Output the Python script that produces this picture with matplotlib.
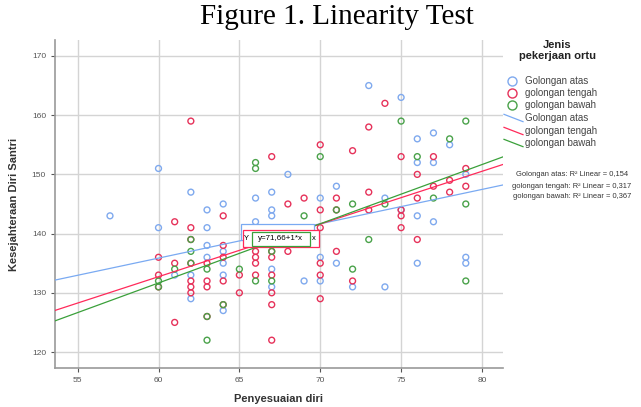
import matplotlib
matplotlib.use("Agg")
import matplotlib.pyplot as plt
from matplotlib.lines import Line2D
from matplotlib.patches import Rectangle
import numpy as np

plt.rcParams['font.family'] = ['Liberation Sans', 'DejaVu Sans']

# data (Penyesuaian diri, Kesejahteraan Diri Santri)
atas_x = [57, 60, 60, 61, 62, 62, 62, 63, 63, 63, 63, 64, 64, 64, 64, 64, 66, 66,
          67, 67, 67, 67, 67, 68, 69, 70, 70, 70, 71, 71, 72, 73, 74, 74, 75, 75,
          76, 76, 76, 76, 77, 77, 77, 78, 79, 79, 79]
atas_y = [143, 151, 141, 133, 147, 133, 129, 144, 141, 138, 136, 145, 137, 135, 133, 127, 146, 142,
          147, 144, 143, 134, 131, 150, 132, 146, 136, 132, 148, 135, 131, 165, 146, 131, 163, 144,
          156, 152, 143, 135, 157, 152, 142, 155, 150, 136, 135]

tengah_x = [60, 60, 60, 61, 61, 61, 62, 62, 62, 62, 62, 62, 62, 63, 63, 63, 63,
            64, 64, 64, 64, 64, 65, 65, 66, 66, 66, 66, 67, 67, 67, 67, 67, 67, 67,
            68, 68, 69, 70, 70, 70, 70, 70, 70, 71, 71, 71, 72, 72, 73, 73, 73, 74,
            75, 75, 75, 75, 76, 76, 76, 77, 77, 78, 78, 79, 79]
tengah_y = [136, 133, 131, 142, 135, 125, 159, 141, 139, 135, 132, 131, 130, 135, 132, 131, 126,
            143, 138, 136, 132, 128, 133, 130, 137, 136, 135, 133, 153, 137, 136, 133, 130, 128, 122,
            145, 137, 146, 155, 144, 141, 135, 133, 129, 146, 144, 137, 154, 132, 158, 147, 144, 162,
            153, 144, 143, 141, 150, 146, 139, 153, 148, 149, 147, 151, 148]

bawah_x = [60, 60, 61, 62, 62, 62, 63, 63, 63, 64, 65, 66, 66, 66, 67, 67, 69, 70,
           71, 72, 72, 73, 74, 75, 76, 77, 78, 79, 79, 79]
bawah_y = [132, 131, 134, 139, 137, 135, 134, 126, 122, 128, 134, 152, 151, 132, 137, 132, 143, 153,
           144, 145, 134, 139, 145, 159, 153, 146, 156, 159, 145, 132]

groups = ['Golongan atas', 'golongan tengah', 'golongan bawah']
# fit lines (intercept, slope) and R2 as shown
fit_a = [101.06, 79.32, 71.66]
fit_b = [0.58, 0.89, 1.0]
r2 = ['0,154', '0,317', '0,367']

cols = ['#7fa9ee', '#e6325a', '#4aa24a']
line_cols = ['#7aaaf2', '#ff2a5a', '#3aa03a']

fig = plt.figure(figsize=(6.41, 4.07), dpi=100)
ax = fig.add_axes([0.0858, 0.0958, 0.6989, 0.806])

xs = [atas_x, tengah_x, bawah_x]
ys = [atas_y, tengah_y, bawah_y]
for i in range(3):
    ax.scatter(xs[i], ys[i], s=18, facecolors='none', edgecolors=cols[i], linewidths=1.0, zorder=3)

xl = (53.6, 81.3)
xx = np.array(xl)
for i in range(3):
    ax.plot(xx, fit_a[i] + fit_b[i] * xx, color=line_cols[i], lw=0.9, zorder=4)

ax.set_xlim(xl)
ax.set_ylim(117.3, 172.7)
ax.set_xticks([55, 60, 65, 70, 75, 80])
ax.set_yticks([120, 130, 140, 150, 160, 170])
ax.grid(True, color='#d4d4d4', lw=1.0)
ax.set_axisbelow(True)
for s in ['top', 'right']:
    ax.spines[s].set_visible(False)
for s in ['left', 'bottom']:
    ax.spines[s].set_color('#999999')
    ax.spines[s].set_linewidth(1.2)
ax.tick_params(labelsize=6, colors='#555555', length=3, width=0.8)
ax.set_xlabel('Penyesuaian diri', fontsize=8, fontweight='bold', color='#333333', labelpad=7)
ax.set_ylabel('Kesejahteraan Diri Santri', fontsize=8, fontweight='bold', color='#333333', labelpad=9)

# equation boxes (blue and red mostly hidden behind the green one)
ax.add_patch(Rectangle((65.12, 138.97), 4.48, 2.7, fc='white', ec=line_cols[0], lw=0.9, zorder=5))
ax.add_patch(Rectangle((65.25, 137.79), 4.66, 2.87, fc='white', ec=line_cols[1], lw=0.9, zorder=6))
ax.text(65.45, 139.2, 'Y', fontsize=5.5, ha='center', va='center', zorder=6)
ax.text(69.62, 139.2, 'x', fontsize=5.5, ha='center', va='center', zorder=6)
ax.add_patch(Rectangle((65.75, 137.97), 3.6, 2.36, fc='white', ec=line_cols[2], lw=0.9, zorder=7))
ax.text(67.55, 139.15, 'y=71,66+1*x', fontsize=5.8, ha='center', va='center', zorder=8)

fig.text(0.525, 0.958, 'Figure 1. Linearity Test', fontsize=21, family='Liberation Serif',
         ha='center', va='center')

# legend built by hand
fig.text(0.869, 0.875, 'Jenis\npekerjaan ortu', fontsize=8, fontweight='bold', ha='center',
         va='center', color='#222222', linespacing=1.1)
rows = [1 - 81 / 407, 1 - 93 / 407, 1 - 105 / 407]
for i in range(3):
    fig.add_artist(Line2D([512 / 641], [rows[i]], marker='o', ms=6.5, mfc='none', mec=cols[i],
                          mew=1.0, ls='none'))
    fig.text(525 / 641, rows[i], groups[i], fontsize=7, color='#444444', va='center')
rows2 = [1 - 118 / 407, 1 - 131 / 407, 1 - 143 / 407]
for i in range(3):
    fig.add_artist(Line2D([504 / 641, 523 / 641], [rows2[i] + 0.009, rows2[i] - 0.009],
                          color=line_cols[i], lw=0.9))
    fig.text(525 / 641, rows2[i], groups[i], fontsize=7, color='#444444', va='center')

rows3 = [1 - 175 / 407, 1 - 186 / 407, 1 - 196 / 407]
for i in range(3):
    fig.text(572 / 641, rows3[i], groups[i] + ': R² Linear = ' + r2[i], fontsize=5.4,
             color='#333333', ha='center', va='center')

fig.savefig('out.png', dpi=100)
